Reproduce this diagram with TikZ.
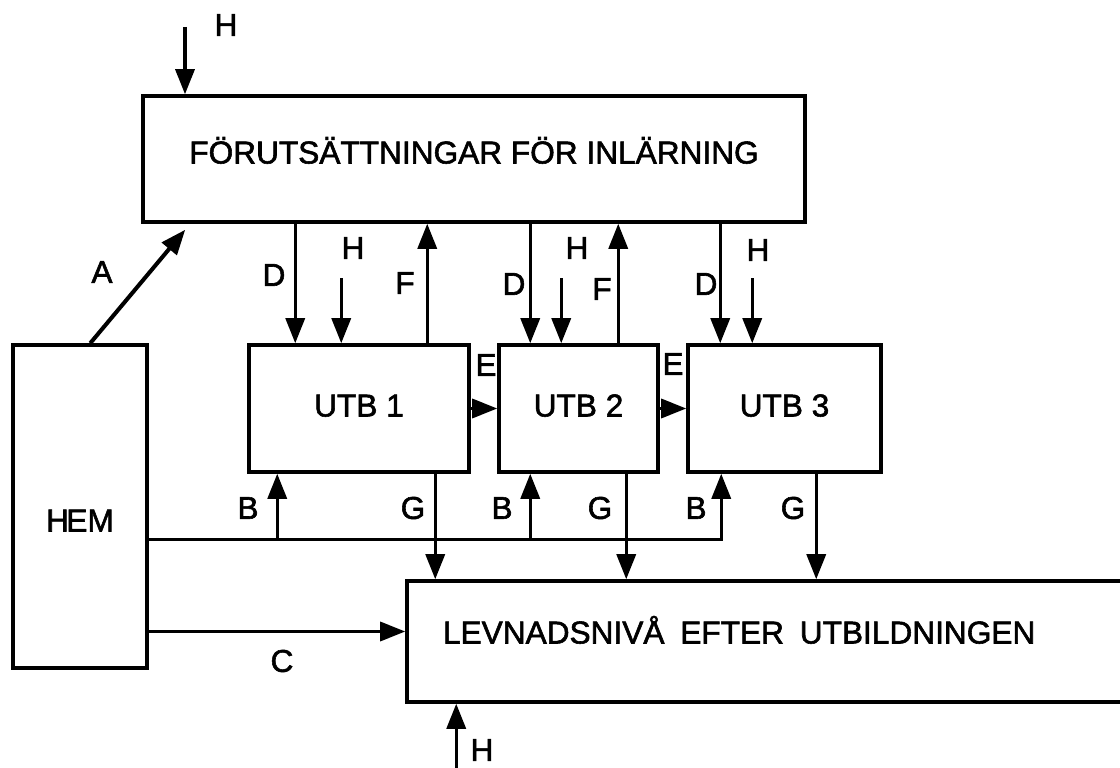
\documentclass[tikz,border=0pt]{standalone}
\usepackage{fontspec}
\setmainfont{Liberation Sans}
\newfontfamily\diafont{Liberation Sans}[FakeBold=1.8]
\usetikzlibrary{arrows.meta,calc}
\tikzset{
  box/.style={draw, line width=2pt, inner sep=0pt, text height=4.6mm, text depth=0pt},
  flow/.style={line width=1.9pt, -{Triangle[length=5mm,width=3.8mm]}},
  lbl/.style={inner sep=0pt}
}
\begin{document}
\begin{tikzpicture}[x=0.2mm, y=-0.2mm, font=\diafont\fontsize{18}{22}\selectfont]
  \useasboundingbox (0,0) rectangle (1120,768);
  \node[box, minimum width=13.24cm, minimum height=2.52cm, text depth=2.8mm] (forut) at (474,159) {FÖRUTSÄTTNINGAR FÖR INLÄRNING};
  \node[box, minimum width=2.68cm, minimum height=6.46cm, text height=10mm] (hem) at (80,506.5) {H\kern-1.5pt EM};
  \node[box, minimum width=4.40cm, minimum height=2.54cm, text depth=1.4mm] (utb1) at (359,408.5) {UTB 1};
  \node[box, minimum width=3.18cm, minimum height=2.54cm, text depth=1.4mm] (utb2) at (578.5,408.5) {UTB 2};
  \node[box, minimum width=3.86cm, minimum height=2.54cm, text depth=1.4mm] (utb3) at (784.5,408.5) {UTB 3};
  \node[box, minimum height=2.42cm, text width=12.94cm, inner xsep=7.2mm, align=left, text depth=3.8mm] (levnad) at (766.5,641.5) {LEVNADSNIVÅ\hspace{.5em}EFTER\hspace{.5em}UTBILDNINGEN};

  \coordinate (htop) at (185,27);
  \draw[flow] (htop) -- (htop |- forut.north);
  \coordinate (a0) at ($(hem.north west)+(79,0)$);
  \coordinate (a1) at ($(forut.south west)+(44,6)$);
  \draw[flow, line width=2.3pt] (a0) -- (a1);

  \coordinate (d1) at ($(utb1.north west)+(48,0)$);
  \coordinate (d2) at ($(utb2.north west)+(33,0)$);
  \coordinate (d3) at ($(utb3.north west)+(34,0)$);
  \draw[flow] (d1 |- forut.south) -- (d1);
  \draw[flow] (d2 |- forut.south) -- (d2);
  \draw[flow] (d3 |- forut.south) -- (d3);

  \coordinate (h1) at ($(utb1.north west)+(94,-65)$);
  \coordinate (h2) at ($(utb2.north west)+(64,-65)$);
  \coordinate (h3) at ($(utb3.north west)+(66,-65)$);
  \draw[flow] (h1) -- (h1 |- utb1.north);
  \draw[flow] (h2) -- (h2 |- utb2.north);
  \draw[flow] (h3) -- (h3 |- utb3.north);

  \coordinate (f1) at ($(utb1.north west)+(180,0)$);
  \coordinate (f2) at ($(utb2.north west)+(121,0)$);
  \draw[flow] (f1) -- (f1 |- forut.south);
  \draw[flow] (f2) -- (f2 |- forut.south);

  \draw[flow] (utb1.east) -- (utb2.west);
  \draw[flow] (utb2.east) -- (utb3.west);

  \coordinate (bus) at ($(hem.north east)+(0,196)$);
  \coordinate (b1) at ($(utb1.south west)+(30,0)$);
  \coordinate (b2) at ($(utb2.south west)+(33,0)$);
  \coordinate (b3) at ($(utb3.south west)+(35,0)$);
  \draw[flow] (bus) -- (bus -| b3) -- (b3);
  \draw[flow] (bus -| b1) -- (b1);
  \draw[flow] (bus -| b2) -- (b2);

  \coordinate (g1) at ($(utb1.south west)+(188,0)$);
  \coordinate (g2) at ($(utb2.south west)+(129,0)$);
  \coordinate (g3) at ($(utb3.south west)+(130,0)$);
  \draw[flow] (g1) -- (g1 |- levnad.north);
  \draw[flow] (g2) -- (g2 |- levnad.north);
  \draw[flow] (g3) -- (g3 |- levnad.north);

  \coordinate (c1) at ($(levnad.west)+(0,-10)$);
  \draw[flow] (c1 -| hem.east) -- (c1);
  \coordinate (h4) at ($(levnad.south west)+(51,66)$);
  \draw[flow] (h4) -- (h4 |- levnad.south);

  \node[lbl] (lh0) at (226,25) {H};
  \node[lbl] (la) at (102,272) {A};
  \node[lbl] (ld1) at (274,275) {D};
  \node[lbl] (lh1) at (353,248) {H};
  \node[lbl] (lf1) at (405,283) {F};
  \node[lbl] (ld2) at (514,284) {D};
  \node[lbl] (lh2) at (577,248) {H};
  \node[lbl] (lf2) at (602,289) {F};
  \node[lbl] (ld3) at (706,284) {D};
  \node[lbl] (lh3) at (758,250) {H};
  \node[lbl] (le1) at (486,365) {E};
  \node[lbl] (le2) at (673,364) {E};
  \node[lbl] (lb1) at (248,508) {B};
  \node[lbl] (lg1) at (413,508) {G};
  \node[lbl] (lb2) at (502,508) {B};
  \node[lbl] (lg2) at (600,508) {G};
  \node[lbl] (lb3) at (696,508) {B};
  \node[lbl] (lg3) at (793,508) {G};
  \node[lbl] (lc) at (282,661) {C};
  \node[lbl] (lh4) at (482,750) {H};
\end{tikzpicture}
\end{document}
